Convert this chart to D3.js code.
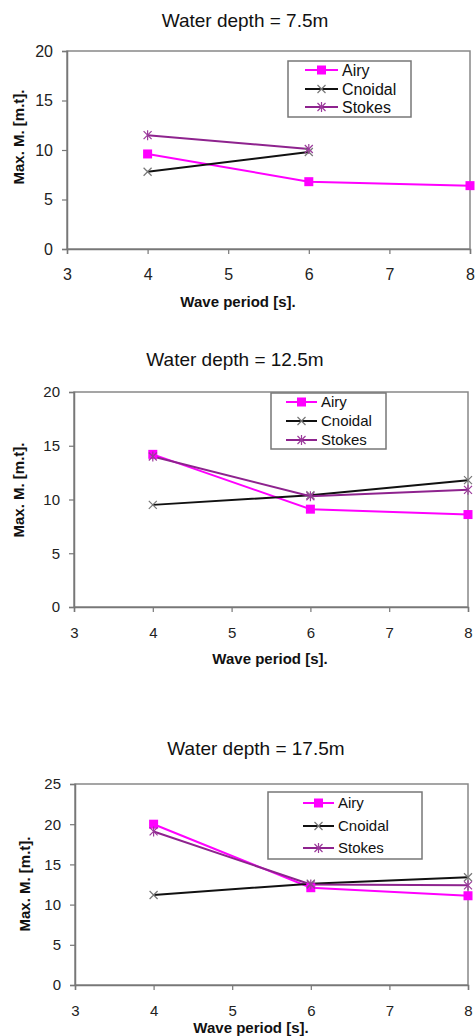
<!DOCTYPE html>
<html>
<head>
<meta charset="utf-8">
<script src="https://cdn.jsdelivr.net/npm/d3@7"></script>
<style>
body{margin:0;background:#fff;}
text{font-family:"Liberation Sans",Arial,sans-serif;}
</style>
</head>
<body>
<script>
// wave period on the x axis
var periods = [4, 6, 8];
var xTicks = [3, 4, 5, 6, 7, 8];
var seriesNames = ["Airy", "Cnoidal", "Stokes"];
var titles = ["Water depth = 7.5m", "Water depth = 12.5m", "Water depth = 17.5m"];

// depth 7.5m
var airy75 = [9.6, 6.8, 6.4];
var cnoidal75 = [7.8, 9.8, null];
var stokes75 = [11.5, 10.1, null];
var yTicks75 = [0, 5, 10, 15, 20];

// depth 12.5m
var airy125 = [14.2, 9.1, 8.6];
var cnoidal125 = [9.5, 10.4, 11.8];
var stokes125 = [14.0, 10.3, 10.9];
var yTicks125 = [0, 5, 10, 15, 20];

// depth 17.5m
var airy175 = [20.0, 12.1, 11.1];
var cnoidal175 = [11.2, 12.6, 13.4];
var stokes175 = [19.1, 12.5, 12.4];
var yTicks175 = [0, 5, 10, 15, 20, 25];

var colors = {Airy:"#ff00ff", Cnoidal:"#111111", Stokes:"#8e238e"};
var markColors = {Airy:"#ff00ff", Cnoidal:"#777777", Stokes:"#9b3b9b"};

var svg = d3.select("body").append("svg").attr("width",475).attr("height",1036);

function marker(g, name, cx, cy){
  var c = markColors[name];
  if (name=="Airy"){
    g.append("rect").attr("x",cx-4.5).attr("y",cy-4.5).attr("width",9).attr("height",9).attr("fill",c);
  } else {
    var s = 4;
    g.append("path").attr("d","M"+(cx-s)+","+(cy-s)+"L"+(cx+s)+","+(cy+s)+"M"+(cx-s)+","+(cy+s)+"L"+(cx+s)+","+(cy-s))
      .attr("stroke",c).attr("stroke-width",1.2).attr("fill","none");
    if (name=="Stokes"){
      g.append("path").attr("d","M"+cx+","+(cy-s-1)+"L"+cx+","+(cy+s+1)).attr("stroke",c).attr("stroke-width",1.2);
    }
  }
}

function drawPanel(p, data, yTicks, title){
  var x = d3.scaleLinear().domain([3,8]).range([p.left,p.right]);
  var y = d3.scaleLinear().domain([0,d3.max(yTicks)]).range([p.bottom,p.top]);

  svg.append("text").attr("x",p.titleX).attr("y",p.titleY).attr("text-anchor","middle")
     .attr("font-size",19).attr("fill","#111").text(title);

  // plot frame
  svg.append("rect").attr("x",p.left).attr("y",p.top).attr("width",p.right-p.left).attr("height",p.bottom-p.top)
     .attr("fill","none").attr("stroke","#888").attr("stroke-width",1.5);

  var yAxis = svg.append("g").attr("transform","translate("+p.left+",0)")
     .call(d3.axisLeft(y).tickValues(yTicks).tickFormat(d3.format("d")).tickSize(5).tickPadding(9));
  var xAxis = svg.append("g").attr("transform","translate(0,"+p.bottom+")")
     .call(d3.axisBottom(x).tickValues(xTicks).tickFormat(d3.format("d")).tickSize(5).tickPadding(15));
  [yAxis,xAxis].forEach(function(a){
    a.select(".domain").attr("stroke","#777").attr("stroke-width",1.5);
    a.selectAll(".tick line").attr("stroke","#777").attr("stroke-width",1.2);
    a.selectAll(".tick text").attr("font-size",p.tickSize).attr("fill","#222")
      .attr("font-family","'Liberation Sans',Arial,sans-serif");
  });

  svg.append("text").attr("transform","translate("+p.yLabX+","+p.yLabY+") rotate(-90)")
     .attr("text-anchor","middle").attr("dy","0.35em").attr("font-size",15).attr("font-weight","bold")
     .attr("fill","#111").text("Max. M. [m.t].");
  svg.append("text").attr("x",p.xLabX).attr("y",p.xLabY).attr("dy","0.35em").attr("text-anchor","middle")
     .attr("font-size",15).attr("font-weight","bold").attr("fill","#111").text("Wave period [s].");

  var line = d3.line().defined(function(d){return d!=null;})
     .x(function(d,i){return x(periods[i]);}).y(function(d){return y(d);});

  seriesNames.forEach(function(name,k){
    var vals = data[k];
    svg.append("path").datum(vals).attr("d",line).attr("fill","none")
       .attr("stroke",colors[name]).attr("stroke-width",2);
  });
  seriesNames.forEach(function(name,k){
    var g = svg.append("g");
    data[k].forEach(function(v,i){ if (v!=null) marker(g,name,x(periods[i]),y(v)); });
  });

  // legend
  var lg = svg.append("g");
  lg.append("rect").attr("x",p.lg[0]).attr("y",p.lg[1]).attr("width",p.lg[2]-p.lg[0]).attr("height",p.lg[3]-p.lg[1])
    .attr("fill","#fff").attr("stroke","#777").attr("stroke-width",1.5);
  seriesNames.forEach(function(name,k){
    var ry = p.lgRows[k];
    lg.append("line").attr("x1",p.lgLine[0]).attr("x2",p.lgLine[1]).attr("y1",ry).attr("y2",ry)
      .attr("stroke",colors[name]).attr("stroke-width",2);
    marker(lg,name,(p.lgLine[0]+p.lgLine[1])/2,ry);
    lg.append("text").attr("x",p.lgLine[1]+4).attr("y",ry).attr("dy","0.35em")
      .attr("font-size",p.lgSize).attr("fill","#111").text(name);
  });
}

drawPanel({left:67,right:470,top:51,bottom:249,titleX:245,titleY:27,tickSize:16,
  yLabX:19,yLabY:137,xLabX:238,xLabY:302,
  lg:[288,61,411,117],lgRows:[70,89,107],lgLine:[305,338],lgSize:16},
  [airy75,cnoidal75,stokes75], yTicks75, titles[0]);

drawPanel({left:74,right:468,top:392,bottom:607,titleX:235,titleY:366,tickSize:15,
  yLabX:19,yLabY:490,xLabX:270,xLabY:659,
  lg:[271,393,386,449],lgRows:[402,421,440],lgLine:[286,317],lgSize:15},
  [airy125,cnoidal125,stokes125], yTicks125, titles[1]);

drawPanel({left:75,right:468,top:784,bottom:985,titleX:256,titleY:755,tickSize:15,
  yLabX:25,yLabY:884,xLabX:251,xLabY:1028,
  lg:[268,792,422,859],lgRows:[803,826,848],lgLine:[303,334],lgSize:15},
  [airy175,cnoidal175,stokes175], yTicks175, titles[2]);
</script>
</body>
</html>
